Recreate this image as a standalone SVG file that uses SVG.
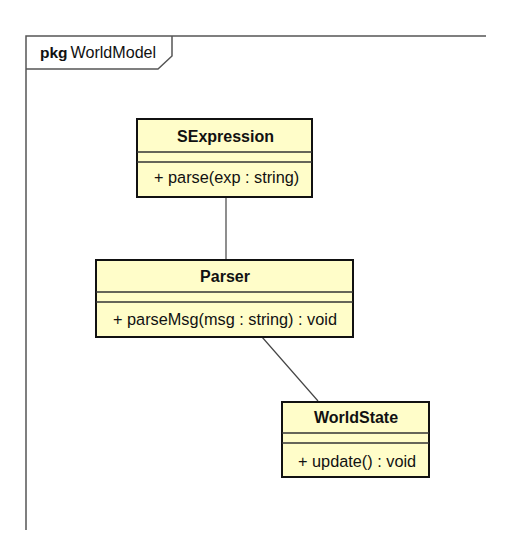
<svg xmlns="http://www.w3.org/2000/svg" width="505" height="543" viewBox="0 0 505 543">
<style>
.frame{fill:none;stroke:#555;stroke-width:1.5}
.box{fill:#fffdc9;stroke:#111;stroke-width:2}
.sep{stroke:#333;stroke-width:1.5}
.conn{stroke:#444;stroke-width:1.2;fill:none}
.t{font-family:"Liberation Sans",Arial,sans-serif;font-size:16.3px;fill:#111}
.b{font-weight:bold;font-size:16px}
</style>
<rect width="505" height="543" fill="#fff"/>
<g id="frame">
<path class="frame" d="M26,530 V36 H486"/>
<path class="frame" d="M26,69 H158 L172,56 V36"/>
<text class="t" x="40" y="58"><tspan class="b" style="font-size:15.5px">pkg</tspan><tspan dx="3" style="font-size:16.1px">WorldModel</tspan></text>
</g>
<g id="connectors">
<line class="conn" x1="226" y1="197" x2="226" y2="260"/>
<line class="conn" x1="262" y1="337" x2="318" y2="401"/>
</g>
<g id="SExpression">
<rect class="box" x="137" y="119" width="175" height="78"/>
<line class="sep" x1="137" y1="152" x2="312" y2="152"/>
<line class="sep" x1="137" y1="162" x2="312" y2="162"/>
<text class="t b" x="225.5" y="142" text-anchor="middle">SExpression</text>
<text class="t" x="154" y="183">+ parse(exp : string)</text>
</g>
<g id="Parser">
<rect class="box" x="96" y="260" width="257" height="77"/>
<line class="sep" x1="96" y1="292" x2="353" y2="292"/>
<line class="sep" x1="96" y1="302" x2="353" y2="302"/>
<text class="t b" x="225" y="282" text-anchor="middle">Parser</text>
<text class="t" x="113" y="325">+ parseMsg(msg : string) : void</text>
</g>
<g id="WorldState">
<rect class="box" x="282" y="402" width="147" height="75"/>
<line class="sep" x1="282" y1="433" x2="429" y2="433"/>
<line class="sep" x1="282" y1="443" x2="429" y2="443"/>
<text class="t b" x="356" y="423" text-anchor="middle">WorldState</text>
<text class="t" x="298" y="467">+ update() : void</text>
</g>
</svg>
